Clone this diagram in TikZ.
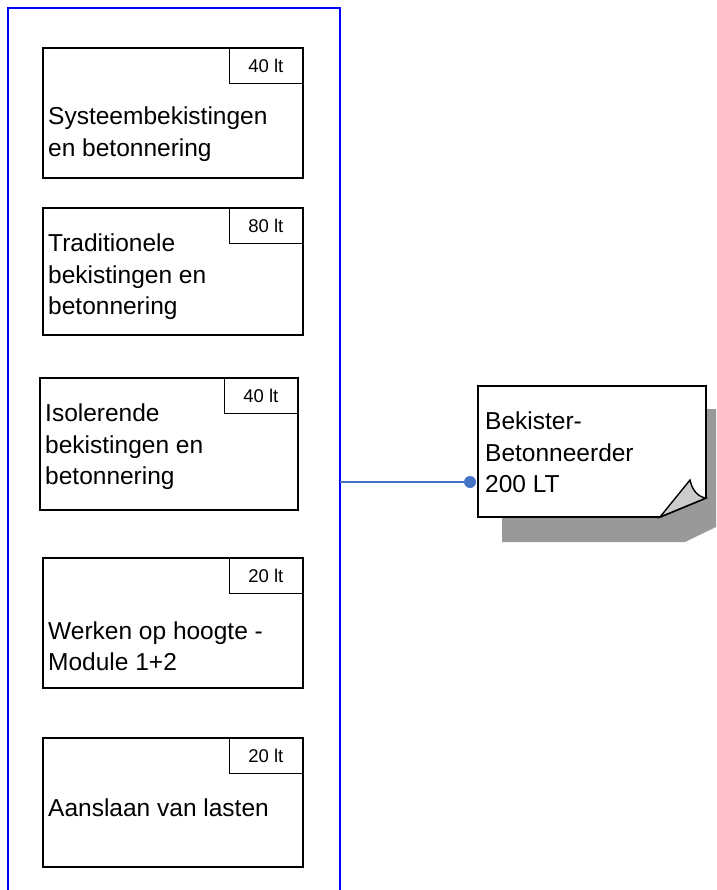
\documentclass[tikz,border=0pt]{standalone}
\usepackage{fontspec}
\setmainfont{Liberation Sans}
\definecolor{connblue}{RGB}{68,114,196}
\definecolor{shadowgray}{RGB}{153,153,153}
\definecolor{foldgray}{RGB}{204,204,204}
\begin{document}
\begin{tikzpicture}[x=1pt,y=-1pt,
  course/.style={draw=black,line width=1.8pt,fill=white},
  tag/.style={draw=black,line width=1.2pt,fill=white,inner sep=0pt,font=\fontsize{18.5}{18.5}\selectfont},
  txt/.style={anchor=west,align=left,inner sep=0pt,font=\fontsize{24.5}{31.5}\selectfont},
  conn/.style={draw=connblue,line width=1.4pt}]
\useasboundingbox (0,0) rectangle (716,890);
% frame
\draw[blue,line width=1.5pt] (8,900) -- (8,8) -- (340,8) -- (340,900);
% boxes
\foreach \nm/\l/\t/\r/\b/\q in {a/43/48/303/178/40 lt, b/43/208/303/335/80 lt, c/40/378/298/510/40 lt, d/43/558/303/688/20 lt, e/43/738/303/867/20 lt}{
  \draw[course] (\l,\t) rectangle (\r,\b);
  \node[tag,minimum width=73pt,minimum height=35pt,anchor=north east] (\nm tag) at (\r,\t) {\q};
}
\node[txt] (ta) at (48,134) {Systeembekistingen\\en betonnering};
\node[txt] (tb) at (48,277) {Traditionele\\bekistingen en\\betonnering};
\node[txt] (tc) at (45,447) {Isolerende\\bekistingen en\\betonnering};
\node[txt] (td) at (48,646) {Werken op hoogte -\\Module 1+2};
\node[txt] (te) at (48,808) {Aanslaan van lasten};
% note shadow
\fill[shadowgray] (502,409) -- (716,409) -- (716,527) -- (685,542) -- (502,542) -- cycle;
% note
\draw[line width=1.8pt,fill=white] (478,386) -- (706,386) -- (706,498) -- (660,517) -- (478,517) -- cycle;
\draw[line width=1.4pt,fill=foldgray] (660,517) -- (690,480) .. controls (692,490) and (698,497) .. (706,498) -- cycle;
\node[txt,anchor=north west] (note) at (485,412) {Bekister-\\Betonneerder\\200 LT};
\coordinate (fr) at (340,482);
\coordinate (nl) at (470,482);
\draw[conn] (fr) -- (nl);
\fill[connblue] (nl) circle (6);
\end{tikzpicture}
\end{document}
